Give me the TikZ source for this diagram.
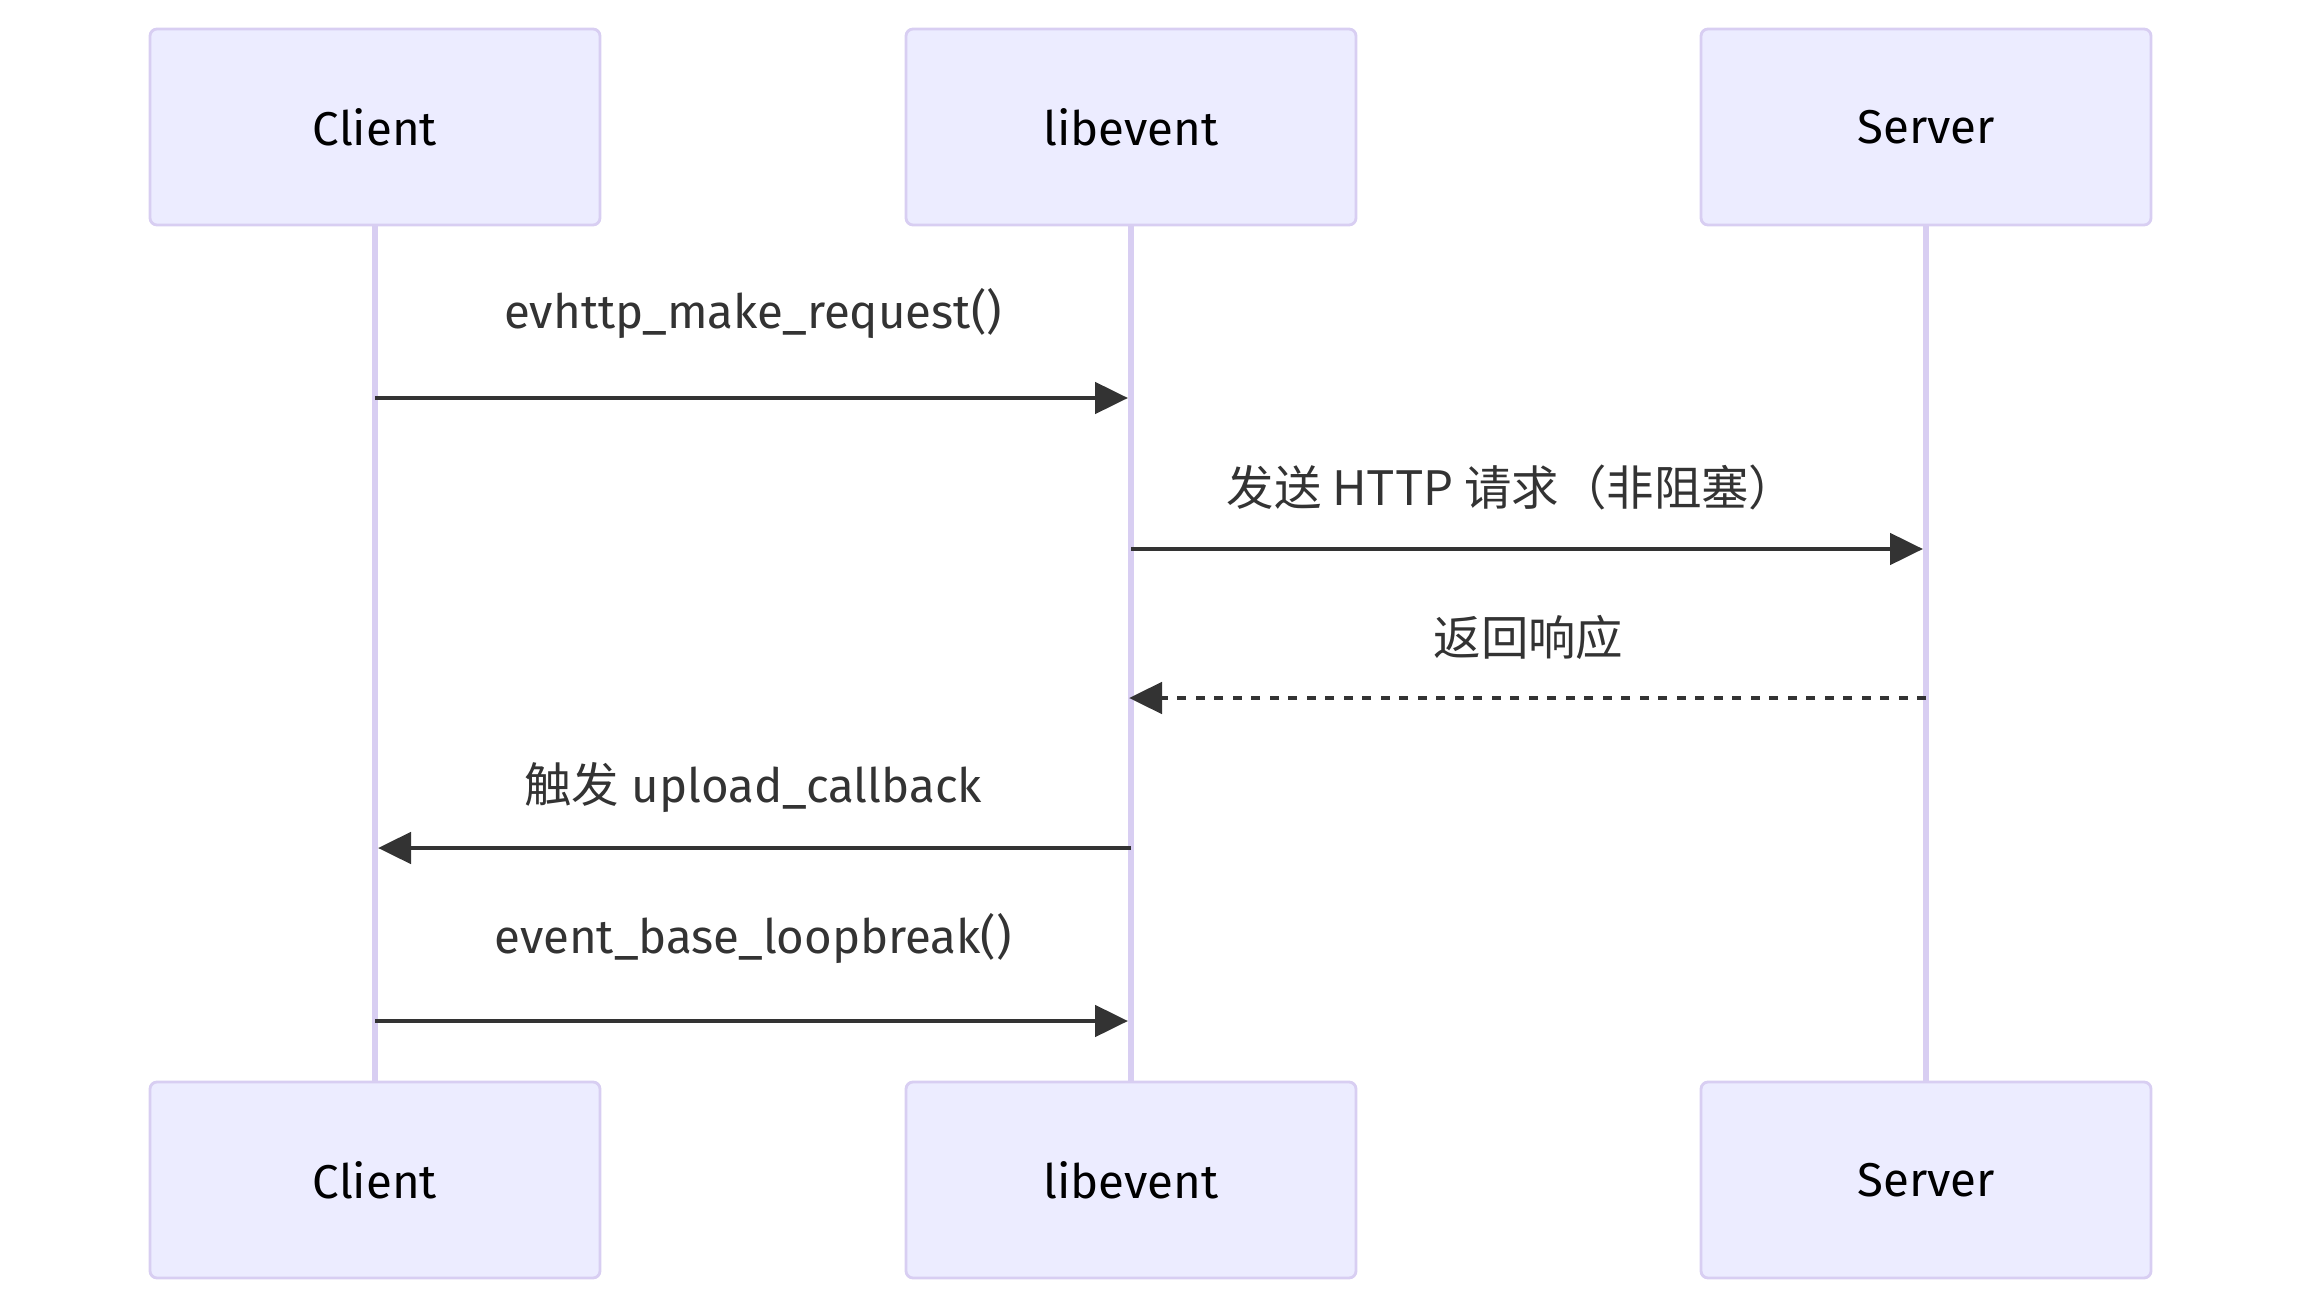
\documentclass[tikz,border=0pt]{standalone}
\usepackage{fontspec}
\setmainfont{Fira Sans}
\newfontfamily\cjk{Noto Sans CJK SC}
\definecolor{SEQfill}{HTML}{ECECFF}
\definecolor{SEQborder}{HTML}{D8CEF2}
\definecolor{SEQline}{HTML}{333333}
\usetikzlibrary{arrows.meta, positioning, calc}

\begin{document}
\begin{tikzpicture}[
      actor/.style={draw=SEQborder, fill=SEQfill, line width=0.8pt, rounded corners=0.07cm,
         minimum width=4.5cm, minimum height=1.96cm, text=black,
         font=\fontsize{13.5}{16}\selectfont},
      lifeline/.style={SEQborder, line width=1.6pt},
      msg/.style={SEQline, line width=1.4pt, shorten >=0.03cm,
         -{Triangle[length=0.33cm, width=0.31cm]}},
      reply/.style={msg, shorten >=-0.02cm, dash pattern=on 0.09cm off 0.095cm},
      msglabel/.style={text=SEQline, font=\fontsize{13.5}{16}\selectfont}
   ]
      \useasboundingbox (0,0) rectangle (23.01,-13.11);
      % Actors (top row)
      \node[actor] (clientTop) at (3.75,-1.27) {Client};
      \node[actor] (libeventTop) at (11.31,-1.27) {libevent};
      \node[actor] (serverTop) at (19.26,-1.27) {Server};
      % Actors (bottom row)
      \node[actor] (clientBot) at (3.75,-11.80) {Client};
      \node[actor] (libeventBot) at (11.31,-11.80) {libevent};
      \node[actor] (serverBot) at (19.26,-11.80) {Server};
      % Lifelines
      \draw[lifeline] (clientTop) -- (clientBot);
      \draw[lifeline] (libeventTop) -- (libeventBot);
      \draw[lifeline] (serverTop) -- (serverBot);
      % Message rows
      \coordinate (row1) at (0,-3.98);
      \coordinate (row2) at (0,-5.49);
      \coordinate (row3) at (0,-6.98);
      \coordinate (row4) at (0,-8.48);
      \coordinate (row5) at (0,-10.21);
      % Messages
      \draw[msg] (clientTop |- row1) -- node[msglabel, yshift=0.84cm] (makeRequest)
         {evhttp\_make\_request()} (libeventTop |- row1);
      \draw[msg] (libeventTop |- row2) -- node[msglabel, yshift=0.62cm, xshift=-0.17cm] (sendRequest)
         {\cjk 发送 HTTP 请求（非阻塞）} (serverTop |- row2);
      \draw[reply] (serverTop |- row3) -- node[msglabel, yshift=0.61cm] (response)
         {\cjk 返回响应} (libeventTop |- row3);
      \draw[msg] (libeventTop |- row4) -- node[msglabel, yshift=0.60cm] (callback)
         {{\cjk 触发} upload\_callback} (clientTop |- row4);
      \draw[msg] (clientTop |- row5) -- node[msglabel, yshift=0.83cm] (loopBreak)
         {event\_base\_loopbreak()} (libeventTop |- row5);
   \end{tikzpicture}
\end{document}
